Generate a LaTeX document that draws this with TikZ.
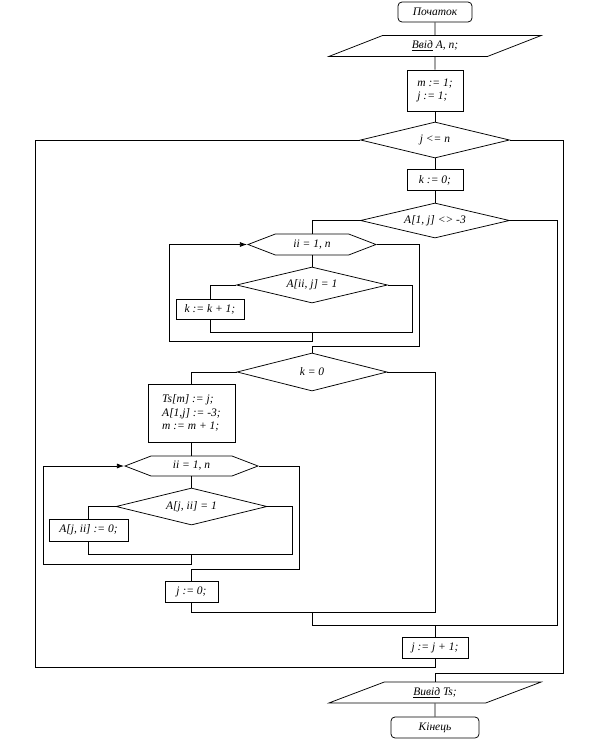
\documentclass[tikz,border=0pt]{standalone}
\usepackage{fontspec}
\setmainfont{Liberation Serif}
\usetikzlibrary{shapes,arrows.meta,positioning}

\tikzset{
  textfont/.style={font=\itshape\fontsize{11.5}{13.5}\selectfont},
  termbox/.style={draw, rectangle, rounded corners=4pt, minimum height=20pt, inner sep=2pt, textfont},
  iobox/.style={draw, trapezium, trapezium left angle=26, trapezium right angle=154,
    trapezium stretches=true, minimum width=213pt, minimum height=21pt, inner sep=1pt, textfont},
  procbox/.style={draw, rectangle, minimum height=21pt, inner sep=2pt, textfont},
  condbox/.style={draw, diamond, aspect=4, inner sep=0pt, textfont},
  loopbox/.style={draw, signal, signal to=west and east, signal pointer angle=42,
    minimum height=21pt, inner sep=1pt, textfont}
}

\begin{document}
\begin{tikzpicture}[x=1pt, y=-1pt, line width=0.75pt]
\useasboundingbox (0,0) rectangle (600,741);

% blocks
\node[termbox, minimum width=74pt] (start) at (435,12) {Початок};
\node[iobox] (input) at (435,46) {\underline{Ввід} A, n;};
\node[procbox, minimum width=56pt, minimum height=41pt, align=left] (init) at (435,90.5) {m := 1;\\j := 1;};
\node[condbox, minimum width=149pt, minimum height=36pt] (loopj) at (435,140) {j <= n};
\node[procbox, minimum width=56pt] (setk) at (435,180) {k := 0;};
\node[condbox, minimum width=149pt, minimum height=35pt] (testrow) at (435,220.5) {A[1, j] <> -3};
\node[loopbox, minimum width=128pt] (loopa) at (312,244.5) {ii = 1, n};
\node[condbox, minimum width=151pt, minimum height=36pt] (testa) at (312,285) {A[ii, j] = 1};
\node[procbox, minimum width=68pt, minimum height=20pt] (inck) at (210,309) {k := k + 1;};
\node[condbox, minimum width=150pt, minimum height=38pt] (testk) at (312,372) {k = 0};
\node[procbox, minimum width=87pt, minimum height=58pt, align=left] (store) at (191.5,413) {Ts[m] := j;\\A[1,j] := -3;\\m := m + 1;};
\node[loopbox, minimum width=133pt, minimum height=20pt] (loopb) at (191.5,466) {ii = 1, n};
\node[condbox, minimum width=151pt, minimum height=37pt] (testb) at (191.5,506.5) {A[j, ii] = 1};
\node[procbox, minimum width=79pt, minimum height=22pt] (clear) at (88.5,530) {A[j, ii] := 0;};
\node[procbox, minimum width=53pt] (resetj) at (191.5,591.5) {j := 0;};
\node[procbox, minimum width=66pt] (incj) at (435,647.5) {j := j + 1;};
\node[iobox] (output) at (435,692.5) {\underline{Вивід} Ts;};
\node[termbox, minimum width=88pt, minimum height=21pt] (stop) at (435,727.5) {Кінець};

% corner points of the connectors
\coordinate (joina) at (312,332);
\coordinate (nota) at (412,332);
\coordinate (enda) at (312,341);
\coordinate (backa) at (169,244.5);
\coordinate (exita) at (419,346);
\coordinate (joinb) at (191.5,554);
\coordinate (notb) at (292,554);
\coordinate (endb) at (191.5,564);
\coordinate (backb) at (43,466);
\coordinate (exitb) at (299,569);
\coordinate (joink) at (312,612);
\coordinate (notk) at (435,612);
\coordinate (joinrow) at (312,625);
\coordinate (notrow) at (557,625);
\coordinate (backj) at (35,667);
\coordinate (exitj) at (563,673);

% connectors
\draw (start.south) -- (input.north);
\draw (input.south) -- (init.north);
\draw (init.south) -- (loopj.north);
\draw (loopj.south) -- (setk.north);
\draw (setk.south) -- (testrow.north);
\draw (testrow.west) -| (loopa.north);
\draw (loopa.south) -- (testa.north);
\draw (testa.west) -| (inck.north);
\draw (inck.south) |- (joina);
\draw (testa.east) -| (nota) -- (joina);
\draw[-{Latex[length=7pt,width=5pt]}] (joina) -- (enda) -| (backa) -- (loopa.west);
\draw (loopa.east) -| (exita) -| (testk.north);
\draw (testk.west) -| (store.north);
\draw (store.south) -- (loopb.north);
\draw (loopb.south) -- (testb.north);
\draw (testb.west) -| (clear.north);
\draw (clear.south) |- (joinb);
\draw (testb.east) -| (notb) -- (joinb);
\draw[-{Latex[length=7pt,width=5pt]}] (joinb) -- (endb) -| (backb) -- (loopb.west);
\draw (loopb.east) -| (exitb) -| (resetj.north);
\draw (resetj.south) |- (joink);
\draw (testk.east) -| (notk) -- (joink);
\draw (joink) -- (joinrow);
\draw (testrow.east) -| (notrow) -- (joinrow);
\draw (incj.north |- joinrow) -- (incj.north);
\draw (incj.south) |- (backj) |- (loopj.west);
\draw (loopj.east) -| (exitj) -| (output.north);
\draw (output.south) -- (stop.north);
\end{tikzpicture}
\end{document}
